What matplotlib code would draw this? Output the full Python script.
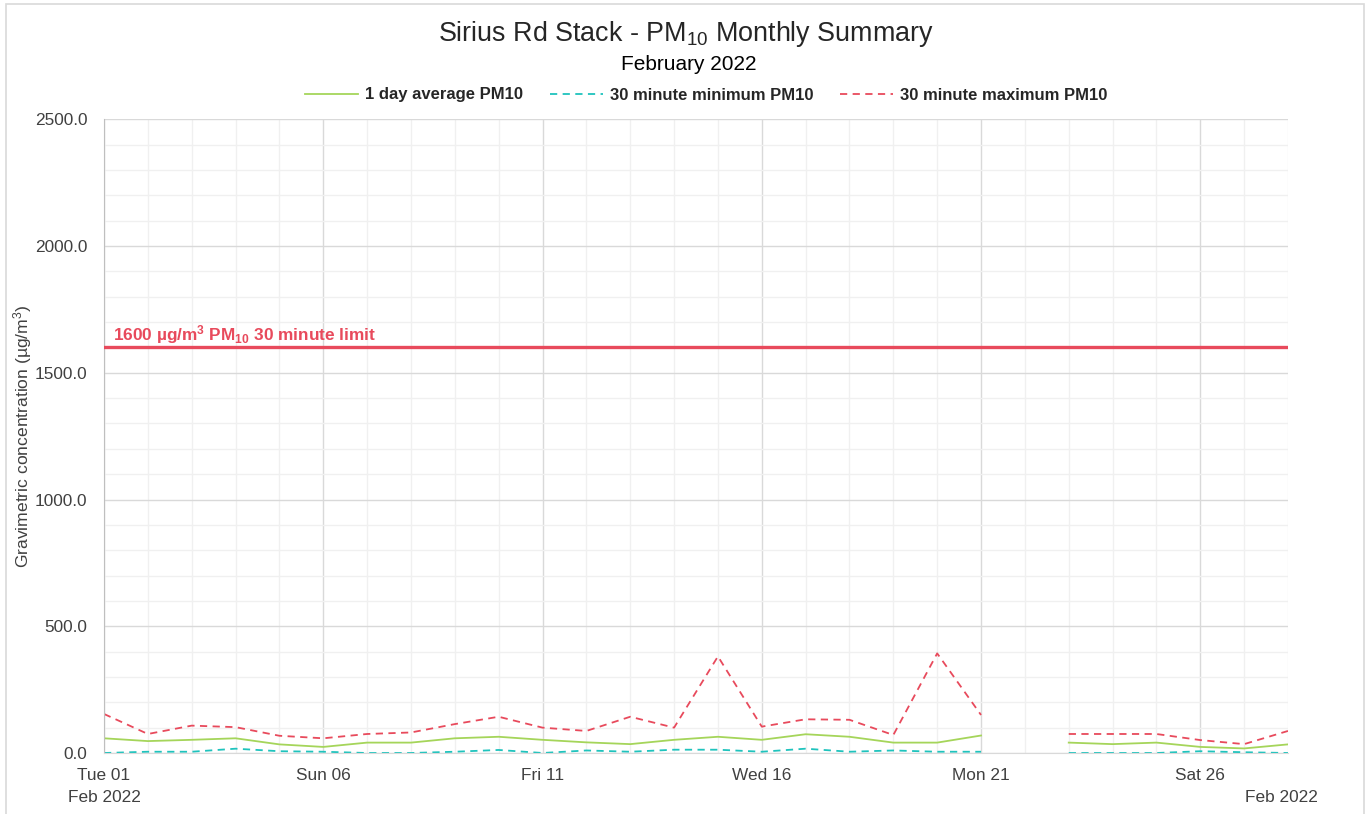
import numpy as np
import matplotlib
matplotlib.use("Agg")
import matplotlib.pyplot as plt
from matplotlib.lines import Line2D
from matplotlib.patches import Rectangle

plt.rcParams['font.family'] = ['Liberation Sans', 'DejaVu Sans']
plt.rcParams['mathtext.default'] = 'regular'

# ---- data ----
days = list(range(1, 29))
avg_pm10 = [58, 47, 52, 58, 34, 24, 41, 41, 58, 64, 52, 42, 35, 52, 64, 52, 74, 64, 41, 41, 69,
            np.nan, 41, 35, 41, 24, 18, 34]
min_pm10 = [0, 5, 5, 17, 7, 5, 0, 0, 5, 12, 0, 10, 5, 13, 13, 5, 17, 5, 10, 5, 5,
            np.nan, 0, 0, 0, 7, 3, 0]
max_pm10 = [154, 75, 108, 102, 68, 58, 75, 81, 114, 143, 100, 87, 143, 100, 381, 104, 133, 131, 71, 393, 150,
            np.nan, 75, 75, 75, 51, 35, 87]
limit_value = 1600
major_days = [1, 6, 11, 16, 21, 26]
major_labels = ["Tue 01\nFeb 2022", "Sun 06", "Fri 11", "Wed 16", "Mon 21", "Sat 26"]
end_label = "Feb 2022"
series_names = ["1 day average PM10", "30 minute minimum PM10", "30 minute maximum PM10"]

W, H = 1365, 814
fig = plt.figure(figsize=(W / 100, H / 100), dpi=100)
fig.patches.append(Rectangle((6 / W, -0.05), (1364 - 6) / W, 1.05 - 3.5 / H, transform=fig.transFigure,
                             fill=False, edgecolor='#d9d9d9', linewidth=1.2))

ax = fig.add_axes([104 / W, 1 - 753 / H, (1288 - 104) / W, (753 - 119.3) / H])

green = '#a5d55a'
cyan = '#1fc3bd'
red = '#e84a5c'
tick_col = '#404040'
fs = 12.4

ax.plot(days, avg_pm10, color=green, lw=1.3)
ax.plot(days, min_pm10, color=cyan, lw=1.3, ls=(0, (4, 3)))
ax.plot(days, max_pm10, color=red, lw=1.3, ls=(0, (4, 3)))
ax.axhline(limit_value, color=red, lw=2.4, zorder=3)
ax.text(1.2, limit_value + 6, r'1600 µg/m$^{3}$ PM$_{10}$ 30 minute limit', color=red,
        fontsize=12.4, fontweight='bold', va='bottom', ha='left')

ax.set_xlim(1, 28)
ax.set_ylim(0, 2500)
ax.set_yticks(np.arange(0, 2501, 500))
ax.set_yticks(np.arange(0, 2501, 100), minor=True)
ax.set_xticks(major_days)
ax.set_xticklabels(major_labels)
ax.set_xticks(days, minor=True)
ax.yaxis.set_major_formatter(matplotlib.ticker.FormatStrFormatter('%.1f'))
ax.grid(which='major', color='#d9d9d9', lw=1.0)
ax.grid(which='minor', color='#f0f0f0', lw=1.0)
ax.set_axisbelow(True)
ax.tick_params(which='both', length=0, labelsize=fs, labelcolor=tick_col)
ax.tick_params(axis='y', pad=12)
ax.tick_params(axis='x', pad=11)
for lbl in ax.get_xticklabels():
    lbl.set_linespacing(1.6)
for s in ['top', 'right']:
    ax.spines[s].set_visible(False)
ax.spines['left'].set_color('#bfbfbf')
ax.spines['bottom'].set_color('#d9d9d9')
fig.text(1281 / W, 1 - 797 / H, end_label, ha='center', va='center', fontsize=fs, color=tick_col)

ax.set_ylabel(r'Gravimetric concentration (µg/m$^{3}$)', fontsize=12.6, color=tick_col)
ax.yaxis.set_label_coords(-70 / 1184, 0.5)

fig.text(686 / W, 1 - 34 / H, r'Sirius Rd Stack - PM$_{10}$ Monthly Summary', ha='center', va='center',
         fontsize=19.4, color='#262626')
fig.text(689 / W, 1 - 64 / H, 'February 2022', ha='center', va='center', fontsize=15, color='#000000')

handles = [Line2D([], [], color=green, lw=1.3),
           Line2D([], [], color=cyan, lw=1.3, ls=(0, (4, 3))),
           Line2D([], [], color=red, lw=1.3, ls=(0, (4, 3)))]
leg = fig.legend(handles, series_names, loc='center', bbox_to_anchor=(706 / W, 1 - 95 / H), ncol=3,
                 frameon=False, handlelength=3.2, handletextpad=0.4, columnspacing=1.6,
                 prop={'weight': 'bold', 'size': 12})
for t in leg.get_texts():
    t.set_color('#262626')

fig.savefig('out.png', dpi=100)
